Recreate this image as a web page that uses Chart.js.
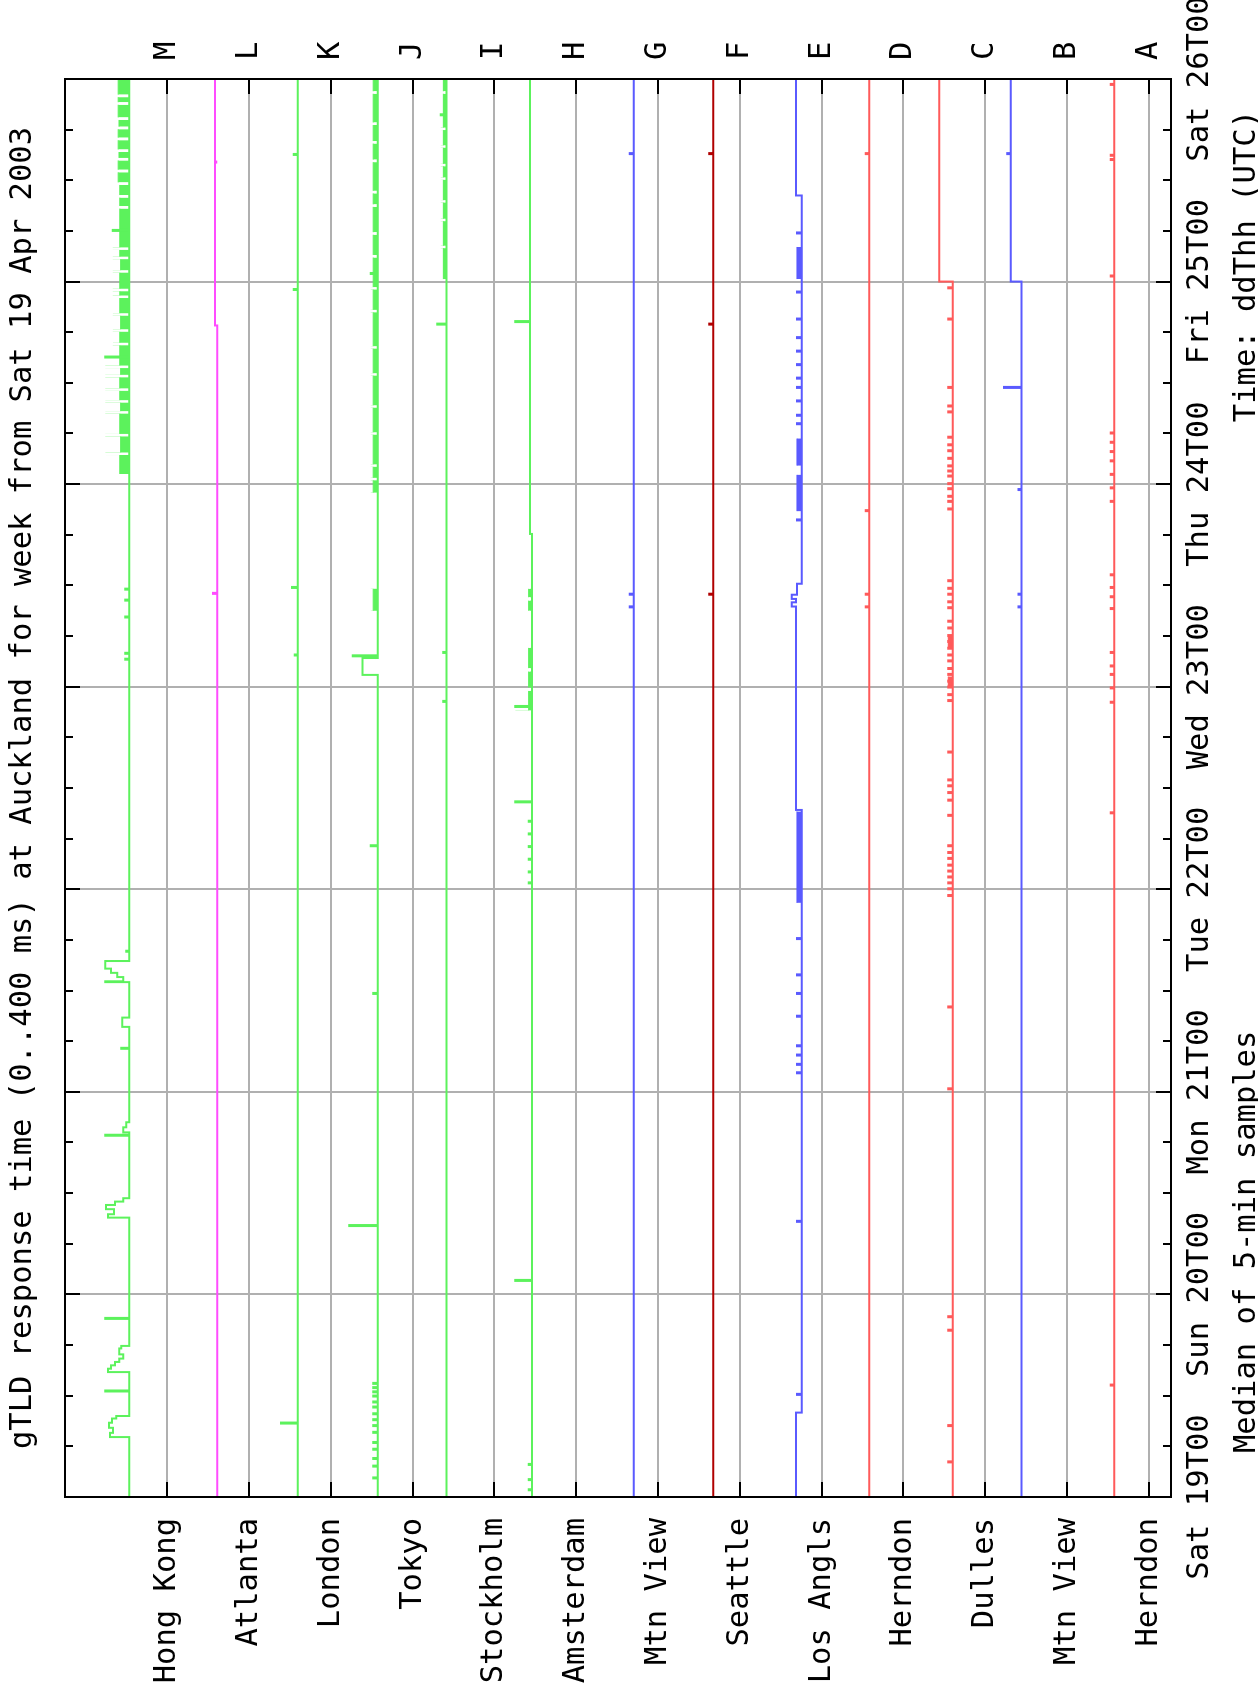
<!DOCTYPE html>
<html>
<head>
<meta charset="utf-8">
<script src="https://cdn.jsdelivr.net/npm/chart.js@4/dist/chart.umd.min.js"></script>
<style>
  html, body { margin: 0; padding: 0; background: #fff; overflow: hidden; }
  #wrap { position: absolute; left: 0; top: 0; width: 1697px; height: 1258px;
          transform-origin: 0 0; transform: translateY(1697px) rotate(-90deg); }
</style>
</head>
<body>
<div id="wrap"><canvas id="gtld" width="1697" height="1258"></canvas></div>
<script>
// gTLD servers, bottom band (A) first
const rootLetters = ["A", "B", "C", "D", "E", "F", "G", "H", "I", "J", "K", "L", "M"];
const rootSites = ["Herndon", "Mtn View", "Dulles", "Herndon", "Los Angls", "Seattle",
  "Mtn View", "Amsterdam", "Stockholm", "Tokyo", "London", "Atlanta", "Hong Kong"];
const dayLabels = ["Sat 19T00", "Sun 20T00", "Mon 21T00", "Tue 22T00", "Wed 23T00",
  "Thu 24T00", "Fri 25T00", "Sat 26T00"];
const bandMs = 400; // each server gets its own 0..400 ms band

// steps: [hour since Sat 19T00, ms] level from that hour on
// spikes: [hour, ms] single-sample excursions
// noise: [fromHour, toHour, ms] dense jitter above the level
const aSteps = [[0, 169]];
const aSpikes = [[13.2, 186], [81, 186], [94.1, 186], [95.8, 186], [97.4, 186], [98.4, 186], [100, 186],
  [105.2, 186], [106.6, 186], [107.7, 186], [109.2, 186], [117.9, 186], [119.5, 186], [121.1, 186],
  [122.7, 186], [123.8, 186], [124.9, 186], [126, 186], [144.6, 186], [158.4, 186], [158.9, 186], [167.3, 186]];
const aNoise = [];

const bSteps = [[0, 223], [144, 276]];
const bSpikes = [[105.4, 238], [106.9, 238], [119.3, 238], [131.4, 309], [159.1, 293]];
const bNoise = [];

const cSteps = [[0, 159], [144, 225]];
const cSpikes = [[4.1, 181], [8.4, 181], [19.7, 181], [21.3, 181], [48.3, 181], [58, 181],
  [71.2, 181], [72.0, 181], [72.7, 181], [73.4, 181], [74.1, 181], [74.8, 181], [75.6, 181], [76.3, 181], [77.1, 181],
  [80.7, 181], [82.5, 181], [83.4, 181], [84.2, 181], [84.9, 181], [88.2, 181],
  [94.3, 181], [95.0, 181], [95.9, 181], [96.6, 181], [97.4, 181], [98.1, 181], [99.0, 181], [99.7, 181],
  [100.5, 181], [101.3, 181], [102.0, 181], [102.9, 181], [103.7, 181],
  [105.3, 181], [106.0, 181], [106.9, 181], [107.6, 181], [108.5, 181],
  [117.0, 181], [117.9, 181], [118.5, 181], [119.4, 181], [120.0, 181], [120.9, 181], [121.5, 181],
  [122.1, 181], [123.0, 181], [123.9, 181], [124.6, 181], [125.5, 181],
  [128.5, 181], [129.2, 181], [131.4, 181], [139.5, 181], [143.2, 181]];
const cNoise = [[96.0, 97.2, 181], [100.6, 101.9, 181]];

const dSteps = [[0, 167]];
const dSpikes = [[105.4, 184], [106.9, 184], [116.8, 184], [159.1, 184]];
const dNoise = [];

const eSteps = [[0, 126], [10, 97], [81.4, 126], [105.5, 146], [106, 126], [106.4, 146], [106.9, 121],
  [108.2, 97], [154.2, 126]];
const eSpikes = [[12.1, 121], [32.6, 121], [50.2, 121], [51.2, 121], [52.3, 121], [53.4, 121],
  [56.9, 121], [59.6, 121], [61.8, 121], [66.1, 121], [115.7, 121], [127.1, 121], [128.1, 121],
  [129.8, 121], [131.4, 121], [132.5, 121], [134.1, 121], [135.7, 121], [137.3, 121], [139.5, 121],
  [142.7, 121], [149.7, 121]];
const eNoise = [[70.4, 81.2, 121], [116.8, 121.1, 121], [122.2, 125.4, 121], [144.3, 148.1, 121]];

const fSteps = [[0, 130]];
const fSpikes = [[106.9, 150], [138.9, 150], [159.1, 150]];
const fNoise = [];

const gSteps = [[0, 119]];
const gSpikes = [[105.4, 139], [106.9, 139], [159.1, 139]];
const gNoise = [];

const hSteps = [[0, 217], [114.1, 226]];
const hSpikes = [[0.8, 233], [2, 233], [3.8, 233], [25.6, 298], [72.7, 233], [74, 233], [75.5, 233],
  [77, 233], [78.5, 233], [80, 233], [82.3, 298], [93.6, 298], [139.2, 298]];
const hNoise = [[93.2, 95.5, 233], [95.9, 97.8, 233], [98.2, 100.6, 233], [105, 106.2, 233], [106.6, 107.6, 233]];

const iSteps = [[0, 234]];
const iSpikes = [[94.2, 250], [100, 250], [138.9, 280], [163.7, 263]];
const iNoise = [[144.3, 147.95, 250], [148.25, 151.15, 250], [151.45, 153.35, 250], [153.65, 156.05, 250],
  [156.35, 157.65, 250], [157.95, 159.85, 250], [160.15, 161.95, 250], [162.25, 166.25, 250], [166.55, 168, 250]];

const jSteps = [[0, 171], [97.4, 245], [99.4, 171]];
const jSpikes = [[2.2, 193], [3.6, 193], [4.5, 193], [5.6, 193], [6.4, 193], [7.6, 193], [8.4, 193],
  [9.1, 193], [9.8, 193], [10.6, 193], [11.2, 193], [11.9, 193], [12.4, 193], [12.9, 193], [13.4, 193],
  [32.1, 310], [59.6, 193], [77.1, 205], [99.6, 293], [144.9, 205]];
const jNoise = [[105, 107.6, 193], [119, 120.45, 193], [120.75, 122.05, 193], [122.35, 125.85, 193],
  [126.15, 129.05, 193], [129.35, 132.85, 193], [133.15, 136.05, 193], [136.35, 140.35, 193],
  [140.65, 143.05, 193], [143.35, 146.85, 193], [147.15, 149.55, 193], [149.85, 152.85, 193],
  [153.15, 154.45, 193], [154.75, 158.15, 193], [158.45, 160.35, 193], [160.65, 162.55, 193],
  [162.85, 166.25, 193], [166.55, 168, 193]];

const kSteps = [[0, 162]];
const kSpikes = [[8.7, 244], [99.7, 176], [107.7, 190], [143, 181], [159, 181]];
const kNoise = [];

const lSteps = [[0, 155], [138.8, 167]];
const lSpikes = [[107, 176], [158.1, 160]];
const lNoise = [];

const mSteps = [[0, 186], [7.1, 280], [7.6, 265], [8.2, 285], [8.8, 270], [9.3, 250], [9.6, 186],
  [14.8, 290], [15.2, 275], [15.6, 255], [16.0, 235], [16.4, 215], [16.9, 235], [17.6, 225], [17.9, 186],
  [33.1, 290], [33.5, 260], [34.1, 300], [34.6, 255], [35.0, 215], [35.4, 186],
  [43.2, 215], [43.8, 200], [44.4, 186], [55.7, 220], [56.8, 186],
  [61.1, 215], [61.6, 245], [62.1, 275], [62.6, 303], [63.5, 186]];
const mSpikes = [[12.5, 303], [21.1, 303], [42.8, 303], [53.1, 225], [61.0, 303], [64.6, 200],
  [99.2, 205], [99.9, 205], [104.2, 205], [106.2, 205], [107.5, 205], [135, 303], [150, 267]];
const mNoise = [[121.2, 123.45, 232], [123.75, 125.65, 228], [125.95, 128.35, 232], [128.65, 129.65, 228],
  [129.95, 131.05, 232], [131.35, 132.65, 232], [132.95, 133.75, 228], [134.05, 136.45, 232],
  [136.75, 138.05, 232], [138.35, 139.95, 228], [140.25, 142.05, 232], [142.35, 142.85, 232],
  [143.15, 145.05, 232], [145.35, 146.65, 228], [146.95, 147.75, 232], [148.05, 152.65, 232],
  [152.95, 153.95, 232], [154.25, 155.45, 232], [155.75, 156.95, 240], [157.25, 158.35, 240],
  [158.65, 159.35, 236], [159.65, 160.75, 240], [161.05, 162.05, 240], [162.35, 163.15, 236],
  [163.45, 164.95, 240], [165.25, 165.85, 240], [166.15, 168, 240]];

const rootSteps = [aSteps, bSteps, cSteps, dSteps, eSteps, fSteps, gSteps, hSteps, iSteps, jSteps, kSteps, lSteps, mSteps];
const rootSpikes = [aSpikes, bSpikes, cSpikes, dSpikes, eSpikes, fSpikes, gSpikes, hSpikes, iSpikes, jSpikes, kSpikes, lSpikes, mSpikes];
const rootNoise = [aNoise, bNoise, cNoise, dNoise, eNoise, fNoise, gNoise, hNoise, iNoise, jNoise, kNoise, lNoise, mNoise];

const green = "#5cf25c", magenta = "#ff4cff", blue = "#5a5aff", darkRed = "#b00000", red = "#ff5a5a";
const rootColors = [red, blue, red, red, blue, darkRed, blue, green, green, green, green, magenta, green];

const titleText = "gTLD response time (0..400 ms) at Auckland for week from Sat 19 Apr 2003";
const footLeft = "Median of 5-min samples";
const footRight = "Time: ddThh (UTC)";

Chart.defaults.font.family = '"DejaVu Sans Mono", monospace';
Chart.defaults.font.size = 30.5;
Chart.defaults.color = "#000";

function levelAt(steps, h) {
  let v = steps[0][1];
  for (const [t, y] of steps) {
    if (t <= h) v = y;
  }
  return v;
}

function tracePoints(i) {
  const off = i * bandMs;
  const steps = rootSteps[i];
  const pts = steps.map(([t, v]) => ({ x: t, y: off + v }));
  rootSpikes[i].forEach(([t, v]) => {
    pts.push({ x: t, y: off + v });
    pts.push({ x: t + 0.12, y: off + levelAt(steps, t + 0.12) });
  });
  pts.push({ x: 168, y: off + levelAt(steps, 168) });
  return pts.sort((p, q) => p.x - q.x);
}

function noisePoints(i) {
  const off = i * bandMs;
  const pts = [];
  rootNoise[i].forEach(([t0, t1, v]) => {
    pts.push({ x: t0, y: off + v }, { x: t1, y: off + v }, { x: t1, y: null });
  });
  return pts;
}

let datasets = [];
rootLetters.forEach((r, i) => {
  datasets.push({
    label: r,
    data: tracePoints(i),
    borderColor: rootColors[i],
    borderWidth: 2,
    stepped: "before", // level holds until the next point
    pointRadius: 0,
    fill: false,
  });
  if (rootNoise[i].length) {
    datasets.push({
      label: r + " jitter",
      data: noisePoints(i),
      borderColor: rootColors[i],
      backgroundColor: rootColors[i],
      borderWidth: 1,
      pointRadius: 0,
      fill: "-1",
    });
  }
});

const rootTicks = (s) => {
  s.ticks = rootLetters.map((_, i) => ({ value: i * bandMs }));
};

// frame, inward tick marks and the footer lines
const framePlugin = {
  id: "frame",
  afterDraw(chart) {
    const { ctx, chartArea: a, scales } = chart;
    ctx.save();
    ctx.strokeStyle = "#000";
    ctx.lineWidth = 2;
    ctx.beginPath();
    for (let h = 0; h <= 168; h += 6) {
      const x = Math.round(scales.x.getPixelForValue(h));
      const len = h % 24 === 0 ? 15 : 8;
      ctx.moveTo(x, a.bottom);
      ctx.lineTo(x, a.bottom - len);
      ctx.moveTo(x, a.top);
      ctx.lineTo(x, a.top + len);
    }
    rootLetters.forEach((_, i) => {
      const y = Math.round(scales.y.getPixelForValue(i * bandMs));
      ctx.moveTo(a.left, y);
      ctx.lineTo(a.left + 15, y);
      ctx.moveTo(a.right, y);
      ctx.lineTo(a.right - 15, y);
    });
    ctx.stroke();
    ctx.strokeRect(a.left, a.top, a.right - a.left, a.bottom - a.top);
    ctx.font = '30.5px "DejaVu Sans Mono"';
    ctx.fillStyle = "#000";
    ctx.textBaseline = "alphabetic";
    ctx.textAlign = "left";
    ctx.fillText(footLeft, a.left + 44, 1255);
    ctx.textAlign = "right";
    ctx.fillText(footRight, a.right - 31, 1255);
    ctx.restore();
  },
};

new Chart(document.getElementById("gtld"), {
  type: "line",
  data: { datasets: datasets },
  plugins: [framePlugin],
  options: {
    responsive: false,
    animation: false,
    devicePixelRatio: 1,
    layout: { padding: 0 },
    plugins: {
      legend: { display: false },
      tooltip: { enabled: false },
      title: {
        display: true,
        text: titleText,
        fullSize: false,
        font: { size: 30.5, lineHeight: 1, weight: "normal" },
        padding: { top: 8, bottom: 26.5 },
        color: "#000",
      },
    },
    scales: {
      x: {
        type: "linear",
        position: "bottom",
        min: 0,
        max: 168,
        afterBuildTicks: (s) => {
          s.ticks = dayLabels.map((_, d) => ({ value: d * 24 }));
        },
        afterFit: (s) => {
          s.height = 87;
          s.paddingLeft = 0;
          s.paddingRight = 0;
        },
        ticks: {
          autoSkip: false,
          maxRotation: 0,
          padding: 11,
          callback: (v) => dayLabels[Math.round(v / 24)],
        },
        grid: { color: "#b0b0b0", lineWidth: 2, drawTicks: false },
        border: { display: false },
      },
      y: {
        type: "linear",
        position: "left",
        min: -108,
        max: 5300,
        afterBuildTicks: rootTicks,
        afterFit: (s) => {
          s.width = 200;
          s.paddingTop = 0;
          s.paddingBottom = 0;
        },
        ticks: {
          padding: 21,
          callback: (v) => rootSites[Math.round(v / bandMs)],
        },
        grid: { color: "#b0b0b0", lineWidth: 2, drawTicks: false },
        border: { display: false },
      },
      yR: {
        type: "linear",
        position: "right",
        min: -108,
        max: 5300,
        afterBuildTicks: rootTicks,
        afterFit: (s) => {
          s.width = 79;
          s.paddingTop = 0;
          s.paddingBottom = 0;
        },
        ticks: {
          padding: 19,
          callback: (v) => rootLetters[Math.round(v / bandMs)],
        },
        grid: { display: false, drawTicks: false },
        border: { display: false },
      },
    },
  },
});
</script>
</body>
</html>
